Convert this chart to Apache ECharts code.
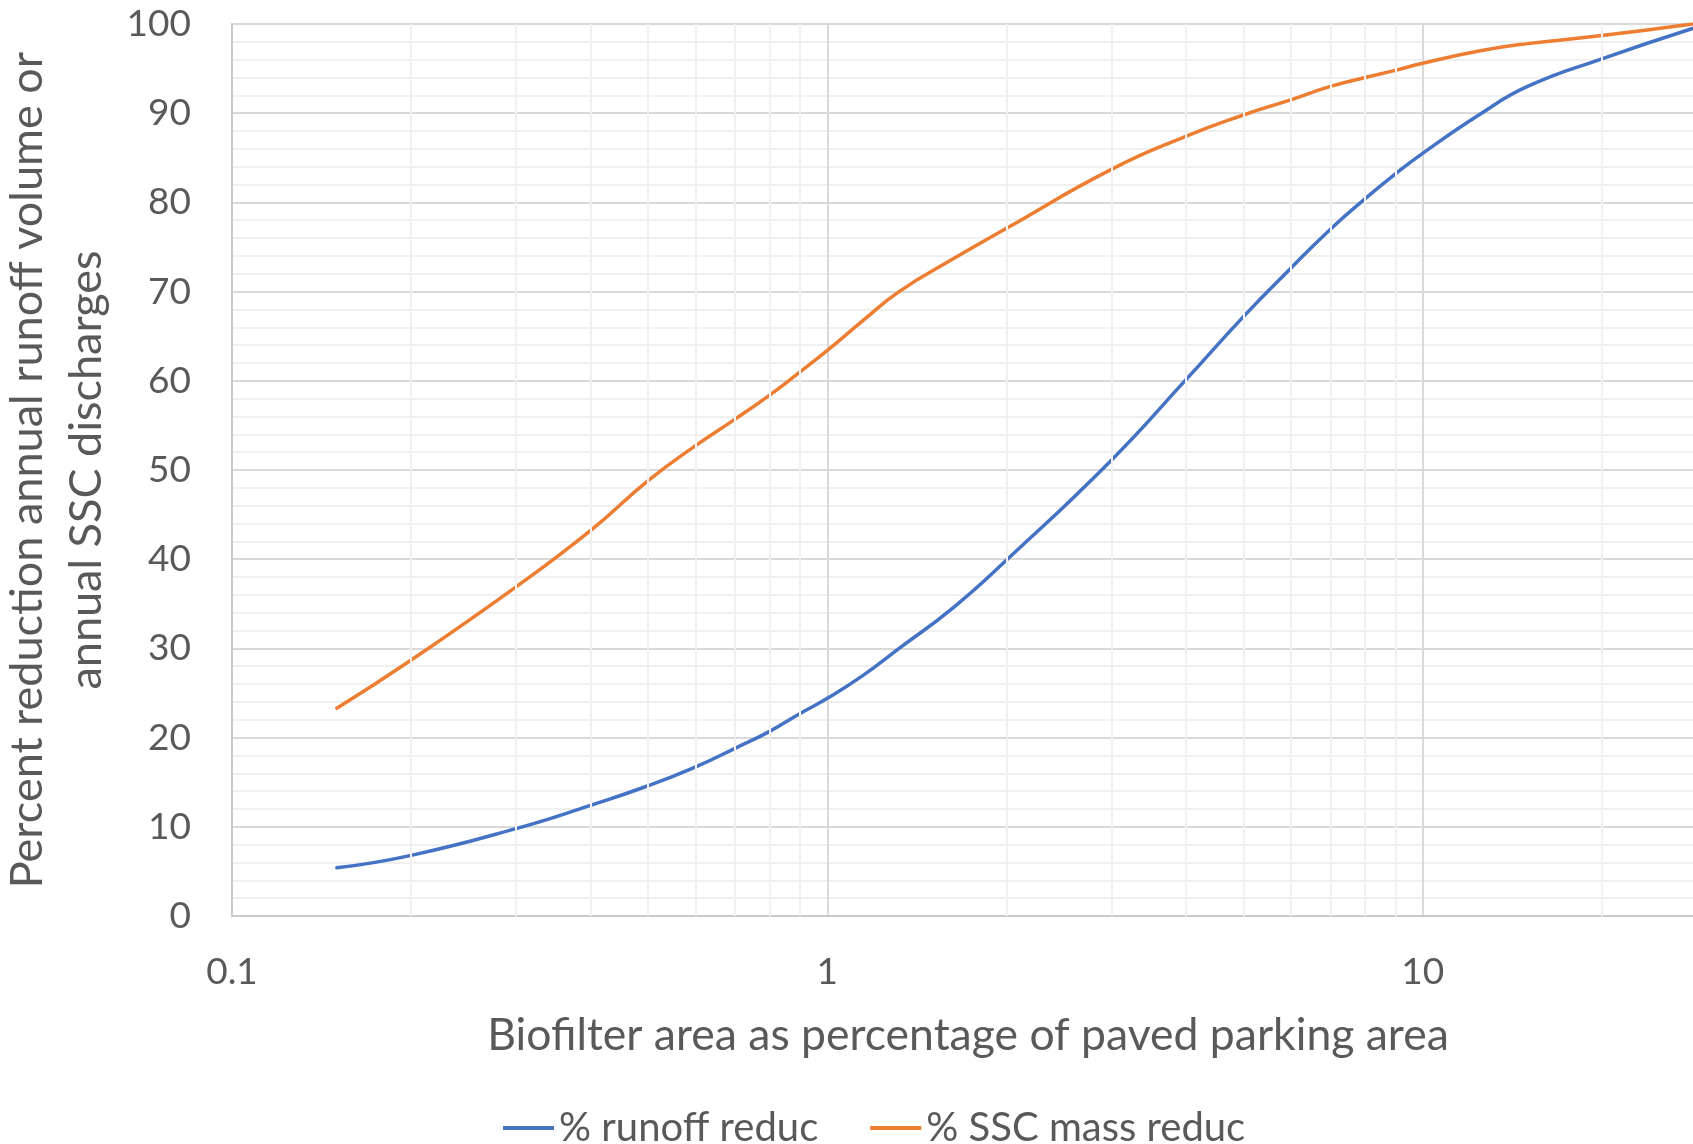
<!DOCTYPE html>
<html>
<head>
<meta charset="utf-8">
<title>Biofilter area vs. percent reduction</title>
<script src="https://cdn.jsdelivr.net/npm/echarts@6/dist/echarts.min.js"></script>
<style>
  html, body { margin: 0; padding: 0; background: #ffffff; }
  #chart { width: 1693px; height: 1144px; }
</style>
</head>
<body>
<div id="chart"></div>
<script>
// Biofilter area as % of paved parking area (log scale)
const areaPct = [0.15, 0.2, 0.3, 0.4, 0.5, 0.6, 0.7, 0.8, 0.9, 1, 1.15, 1.32, 1.63, 2, 3, 4, 5, 6, 7, 8, 9, 10, 12.5, 15, 20, 28.4];
// % reduction of annual runoff volume
const runoffReduc = [5.4, 6.8, 9.8, 12.4, 14.6, 16.7, 18.8, 20.7, 22.7, 24.4, 27.0, 30.0, 34.6, 39.9, 51.1, 60.1, 67.2, 72.6, 77.0, 80.4, 83.2, 85.5, 89.9, 93.0, 96.1, 99.5];
// % reduction of annual SSC mass discharges
const sscReduc = [23.3, 28.7, 36.9, 43.2, 48.8, 52.7, 55.7, 58.4, 61.0, 63.4, 66.8, 70.0, 73.7, 77.1, 83.7, 87.4, 89.8, 91.5, 93.0, 94.0, 94.8, 95.6, 97.0, 97.8, 98.7, 100];

const seriesNames = ['% runoff reduc', '% SSC mass reduc'];
const xTitle = 'Biofilter area as percentage of paved parking area';
const yTitle = 'Percent reduction annual runoff volume or\nannual SSC discharges';

// minor log gridlines: 2..9 within each decade
const decades = [0.1, 1, 10];
const minorMultipliers = [2, 3, 4, 5, 6, 7, 8, 9];

const FONT = 'Lato, "Open Sans", sans-serif';
const TEXT = '#595959';

const minorX = [];
decades.forEach(d => minorMultipliers.forEach(m => minorX.push(+(d * m).toPrecision(3))));

const pairs = ys => areaPct.map((x, i) => [x, ys[i]]);

const chart = echarts.init(document.getElementById('chart'), null, { renderer: 'canvas' });

chart.setOption({
  animation: false,
  backgroundColor: '#ffffff',
  textStyle: { fontFamily: FONT, color: TEXT },
  // the log axis runs on to 100, past the right edge of the page
  grid: { left: 232, top: 24, width: 1786, height: 892, outerBoundsMode: 'none', containLabel: false },
  xAxis: {
    type: 'log',
    logBase: 10,
    min: 0.1,
    max: 100,
    axisLine: { show: true, onZero: false, lineStyle: { color: '#c9c9c9', width: 2 } },
    axisTick: { show: false },
    axisLabel: {
      fontSize: 37, color: TEXT, fontFamily: FONT, margin: 38,
      formatter: v => String(parseFloat(Number(v).toPrecision(4)))
    },
    splitLine: { show: true, lineStyle: { color: '#d9d9d9', width: 2 } }
  },
  yAxis: {
    type: 'value',
    min: 0,
    max: 100,
    interval: 10,
    name: yTitle,
    nameLocation: 'middle',
    nameGap: 108,
    nameRotate: 90,
    nameTextStyle: { fontSize: 45, lineHeight: 59, color: TEXT, fontFamily: FONT, align: 'center' },
    axisLine: { show: true, lineStyle: { color: '#c9c9c9', width: 2 } },
    axisTick: { show: false },
    axisLabel: { fontSize: 37, color: TEXT, fontFamily: FONT, margin: 41 },
    splitLine: { show: true, lineStyle: { color: '#d9d9d9', width: 2 } },
    minorTick: { show: false, splitNumber: 5 },
    minorSplitLine: { show: true, lineStyle: { color: '#f0f0f0', width: 2 } }
  },
  legend: {
    data: seriesNames,
    left: 503,
    top: 1103,
    padding: 0,
    icon: 'rect',
    itemWidth: 51,
    itemHeight: 4,
    itemGap: 52,
    textStyle: { fontSize: 40, lineHeight: 50, color: TEXT, fontFamily: FONT }
  },
  graphic: [{
    type: 'text',
    x: 968,
    y: 1036,
    style: {
      text: xTitle,
      fontSize: 44.5,
      fontFamily: FONT,
      fill: TEXT,
      align: 'center',
      verticalAlign: 'middle'
    }
  }],
  series: [
    {
      name: 'minor-grid',
      type: 'line',
      data: [],
      z: 1,
      silent: true,
      markLine: {
        silent: true,
        symbol: ['none', 'none'],
        label: { show: false },
        lineStyle: { color: '#f0f0f0', width: 2, type: 'solid' },
        emphasis: { disabled: true },
        data: minorX.map(v => ({ xAxis: v }))
      }
    },
    {
      name: seriesNames[0],
      type: 'line',
      data: pairs(runoffReduc),
      smooth: 0.5,
      showSymbol: false,
      symbol: 'none',
      z: 3,
      lineStyle: { color: '#4472C4', width: 3.5, cap: 'round' },
      itemStyle: { color: '#4472C4' }
    },
    {
      name: seriesNames[1],
      type: 'line',
      data: pairs(sscReduc),
      smooth: 0.5,
      showSymbol: false,
      symbol: 'none',
      z: 3,
      lineStyle: { color: '#ED7D31', width: 3.5, cap: 'round' },
      itemStyle: { color: '#ED7D31' }
    }
  ]
});
</script>
</body>
</html>
